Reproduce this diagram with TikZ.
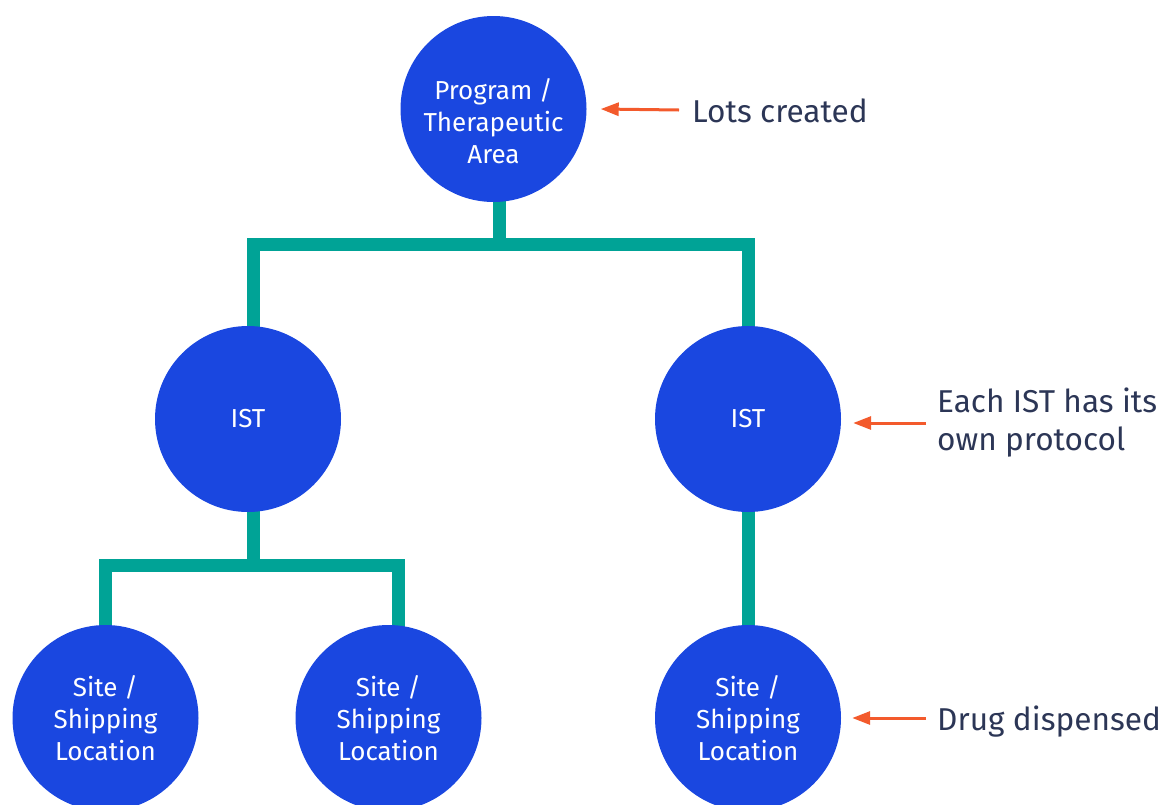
\documentclass[tikz,border=0pt]{standalone}
\usepackage{fontspec}
\setmainfont{Fira Sans}
\usetikzlibrary{arrows.meta,backgrounds}
\definecolor{cblue}{HTML}{1A47E0}
\definecolor{cteal}{HTML}{00A396}
\definecolor{corange}{HTML}{F35A2C}
\definecolor{cnavy}{HTML}{2C3656}
\begin{document}
\begin{tikzpicture}[x=1pt,y=-1pt,
  circ/.style={circle,fill=cblue,minimum size=186pt,inner sep=0pt,text=white,align=center,font=\fontsize{26}{32}\selectfont},
  ctext/.style={text=white,align=center,inner sep=0pt,font=\fontsize{26}{32}\selectfont},
  conn/.style={draw=cteal,line width=13pt,line join=miter},
  arr/.style={draw=corange,line width=3pt,-{Triangle[length=18pt,width=13pt]}},
  lbl/.style={text=cnavy,font=\fontsize{31.6}{38}\selectfont,inner sep=0pt,align=left}]
\useasboundingbox (0,0) rectangle (1164,804);

% circles
\node[circ] (top) at (493.5,109) {};
\node[ctext] (toptext) at (493.5,121) {Program /\\Therapeutic\\Area};
\node[circ] (istL) at (248,419) {IST};
\node[circ] (istR) at (748,419) {IST};
\node[circ] (s1) at (105.5,718) {Site /\\Shipping\\Location};
\node[circ] (s2) at (388.5,718) {Site /\\Shipping\\Location};
\node[circ] (s3) at (748,718) {Site /\\Shipping\\Location};

% junction coordinates
\coordinate (jt) at (499,244);
\coordinate (jL) at (253,244);
\coordinate (jR) at (748,244);
\coordinate (jm) at (253,565.5);
\coordinate (ja) at (105.5,565.5);
\coordinate (jb) at (398.5,565.5);

\begin{pgfonlayer}{background}
  \draw[conn] (top.center -| jt) -- (jt);
  \draw[conn] (istL.center -| jL) -- (jL) -- (jR) -- (istR.center);
  \draw[conn] (istL.center -| jm) -- (jm);
  \draw[conn] (s1.center) -- (ja) -- (jb) -- (s2.center -| jb);
  \draw[conn] (istR.center) -- (s3.center);
\end{pgfonlayer}

% labels
\node[lbl,anchor=base west] (l1) at (692,122) {Lots created};
\node[lbl,anchor=west] (l2) at (937,423) {Each IST has its\\own protocol};
\node[lbl,anchor=base west] (l3) at (937,730) {Drug dispensed};

\coordinate (a1) at (679,110);
\coordinate (a2) at (926,423);
\coordinate (a3) at (926,718);
\draw[arr] (a1) -- ([xshift=14pt]top.east);
\draw[arr] (a2) -- ([xshift=12pt,yshift=-4pt]istR.east);
\draw[arr] (a3) -- ([xshift=11pt]s3.east);
\end{tikzpicture}
\end{document}
